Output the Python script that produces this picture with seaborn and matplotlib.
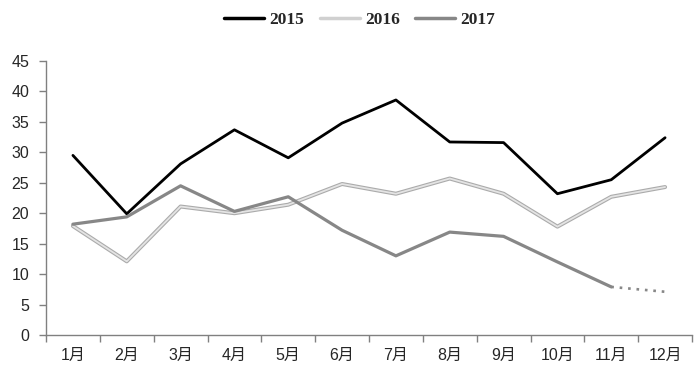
"""Monthly line chart, 2015-2017, grey-scale style."""

import matplotlib

matplotlib.use("Agg")
import matplotlib.pyplot as plt  # noqa: E402
import pandas as pd  # noqa: E402
import seaborn as sns  # noqa: E402
from matplotlib.ticker import FixedLocator, NullFormatter  # noqa: E402

months = ["1月", "2月", "3月", "4月", "5月", "6月", "7月", "8月", "9月", "10月", "11月", "12月"]
y2015 = [29.5, 19.9, 28.1, 33.7, 29.1, 34.8, 38.6, 31.7, 31.6, 23.2, 25.5, 32.4]
y2016 = [17.9, 12.1, 21.1, 20.0, 21.4, 24.8, 23.2, 25.7, 23.2, 17.8, 22.7, 24.3]
y2017 = [18.2, 19.4, 24.5, 20.3, 22.7, 17.2, 13.0, 16.9, 16.2, 12.0, 7.9, 7.1]
y_ticks = list(range(0, 50, 5))

sns.set_style("white")
plt.rcParams["font.family"] = ["Liberation Sans", "Noto Sans CJK SC"]

df = pd.DataFrame({"pos": range(len(months)), "2015": y2015, "2016": y2016, "2017": y2017})

fig = plt.figure(figsize=(6.97, 3.79), dpi=100)
ax = fig.add_axes([46 / 697, 44 / 379, 646 / 697, 274 / 379])

# 2015
sns.lineplot(data=df, x="pos", y="2015", color="black", linewidth=2.0, ax=ax)
# 2016: light line with a darker outline
sns.lineplot(data=df, x="pos", y="2016", color="#ababab", linewidth=2.9, ax=ax)
sns.lineplot(data=df, x="pos", y="2016", color="#e4e4e4", linewidth=1.3, ax=ax)
# 2017: solid up to Nov, dotted to Dec
sns.lineplot(data=df.iloc[:11], x="pos", y="2017", color="#878787", linewidth=2.3, ax=ax)
sns.lineplot(data=df.iloc[10:], x="pos", y="2017", color="#878787", linewidth=1.9,
             linestyle=(0, (1, 2.2)), ax=ax)

ax.set_xlim(-0.5, len(months) - 0.5)
ax.set_ylim(0, 45)
ax.set_xlabel("")
ax.set_ylabel("")

ax.xaxis.set_major_locator(FixedLocator([i - 0.5 for i in range(len(months) + 1)]))
ax.xaxis.set_major_formatter(NullFormatter())
ax.xaxis.set_minor_locator(FixedLocator(list(range(len(months)))))
ax.set_xticklabels(months, minor=True)
ax.tick_params(axis="x", which="major", direction="out", length=5, width=1, color="#808080", bottom=True)
ax.tick_params(axis="x", which="minor", length=0, pad=9, labelsize=11.5, bottom=True)
ax.set_yticks(y_ticks)
ax.tick_params(axis="y", direction="out", length=5, width=1, color="#808080", left=True,
               labelsize=11.5, pad=7)

for side in ("top", "right"):
    ax.spines[side].set_visible(False)
for side in ("left", "bottom"):
    ax.spines[side].set_color("#808080")
    ax.spines[side].set_linewidth(1.0)

handles = [
    plt.Line2D([], [], color="black", linewidth=2.5),
    plt.Line2D([], [], color="#d0d0d0", linewidth=2.5),
    plt.Line2D([], [], color="#878787", linewidth=2.5),
]
fig.legend(handles, ["2015", "2016", "2017"], loc="center", bbox_to_anchor=(0.516, 0.947),
           ncol=3, frameon=False, handlelength=2.3, columnspacing=0.9, handletextpad=0.3,
           prop={"family": "Liberation Serif", "weight": "bold", "size": 12.5})

fig.savefig("out.png", dpi=100)
plt.close(fig)
